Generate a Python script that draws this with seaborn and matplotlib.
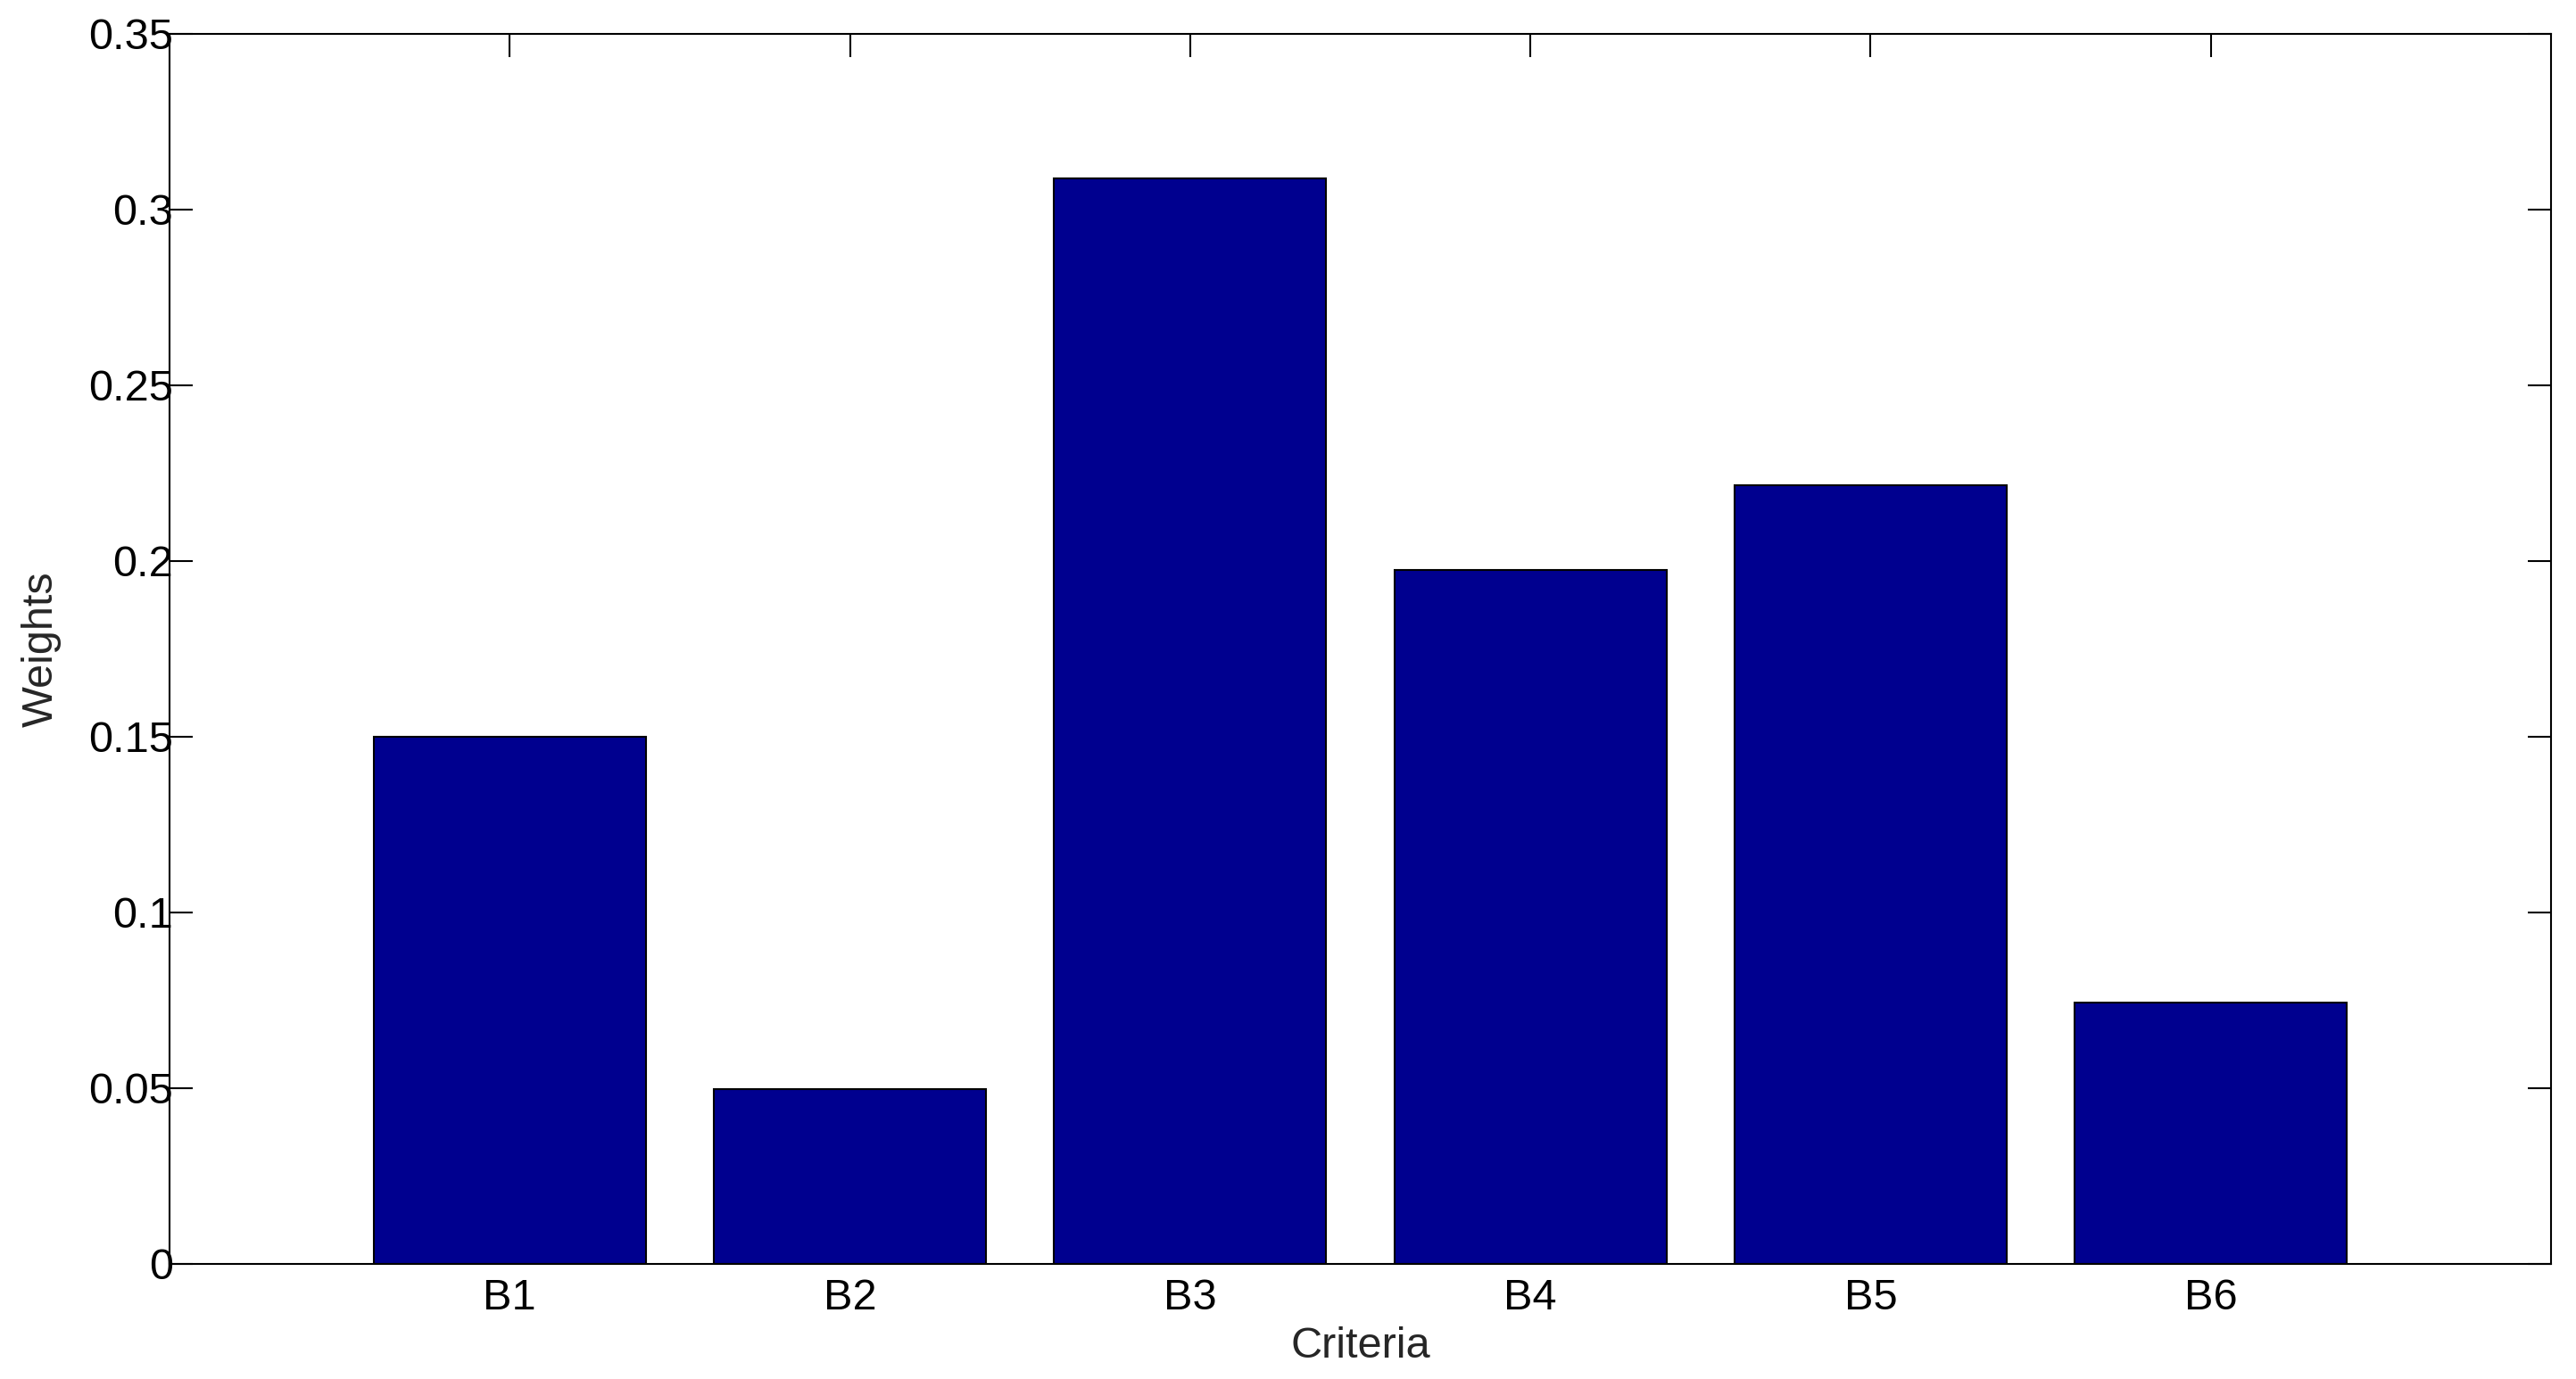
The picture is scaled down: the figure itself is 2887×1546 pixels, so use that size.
import matplotlib
matplotlib.use("Agg")
import pandas as pd
import seaborn as sns
import matplotlib.pyplot as plt

# Criteria weights
criteria = ['B1', 'B2', 'B3', 'B4', 'B5', 'B6']
weights = [0.150, 0.0497, 0.3088, 0.1973, 0.2214, 0.0742]
y_ticks = [0, 0.05, 0.1, 0.15, 0.2, 0.25, 0.3, 0.35]
y_tick_labels = ['0', '0.05', '0.1', '0.15', '0.2', '0.25', '0.3', '0.35']

df = pd.DataFrame({'criteria': criteria, 'weight': weights})

sns.set_style('white')
plt.rcParams['font.family'] = ['Liberation Sans', 'DejaVu Sans']

fig = plt.figure(figsize=(28.87, 15.46), dpi=100)
ax = fig.add_axes([0.0658, 0.0836, 0.9245, 0.892])

sns.barplot(x='criteria', y='weight', data=df, color='#00008F', saturation=1,
            width=0.8, edgecolor='black', linewidth=1.5, ax=ax)

ax.set_xlim(-1, 6)
ax.set_ylim(0, 0.35)
ax.set_yticks(y_ticks)
ax.set_yticklabels(y_tick_labels)
ax.set_xlabel('Criteria', fontsize=35, labelpad=6)
ax.set_ylabel('Weights', fontsize=35, labelpad=22)

for s in ax.spines.values():
    s.set_visible(True)
    s.set_color('black')
    s.set_linewidth(1.5)

ax.tick_params(axis='both', which='major', direction='in', length=19, width=1.5,
               top=True, right=True, bottom=True, left=True, labelsize=35, colors='black')
ax.tick_params(axis='y', pad=-3)
ax.tick_params(axis='x', pad=12)

fig.savefig('out.png', dpi=100, facecolor='white')
